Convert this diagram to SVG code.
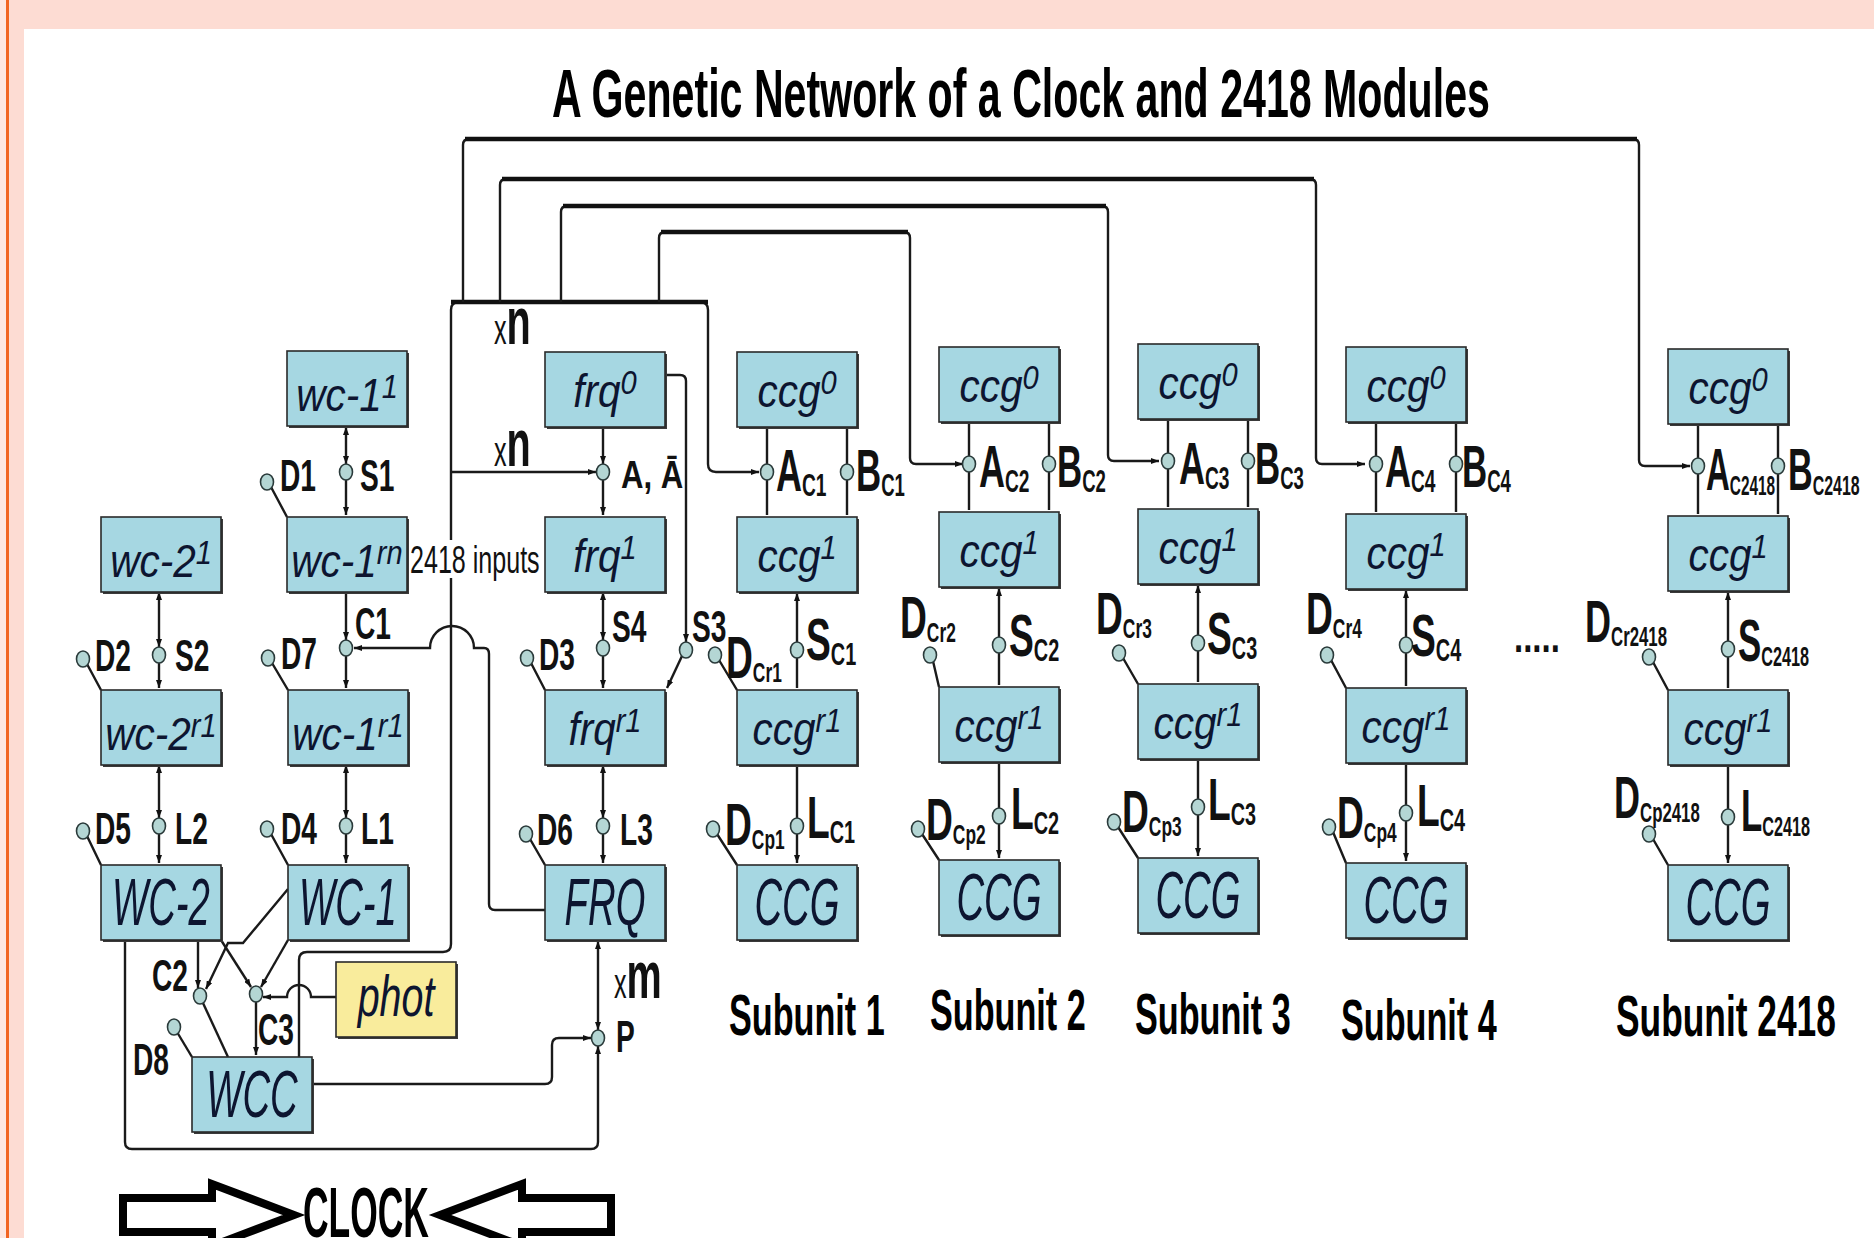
<svg xmlns="http://www.w3.org/2000/svg" width="1874" height="1238" viewBox="0 0 1874 1238">
<defs>
<style>
.bx{fill:#a6d7e2;stroke:#2a2a2a;stroke-width:1.6}
.sh{fill:#3a3a3a}
.ph{fill:#f9ec9c;stroke:#2a2a2a;stroke-width:1.6}
.lt{font-family:"Liberation Sans",Arial,sans-serif;font-style:italic;font-size:46px;fill:#0d1530;text-anchor:middle}
.ut{font-family:"Liberation Sans",Arial,sans-serif;font-style:italic;font-size:66px;fill:#0d1530;text-anchor:middle}
.sp{font-size:33px}
.b{font-family:"Liberation Sans",Arial,sans-serif;font-weight:bold;font-size:44px;fill:#111}
.b2{font-family:"Liberation Sans",Arial,sans-serif;font-weight:bold;font-size:60px;fill:#111}
.sb{font-size:32px}
.sd{font-size:28px}
.w{fill:none;stroke:#1a1a1a;stroke-width:2.4}
.wt{fill:none;stroke:#111;stroke-width:4.5}
.nd{fill:#b4d6d4;stroke:#2a3a3a;stroke-width:1.6}
.ti{font-family:"Liberation Sans",Arial,sans-serif;font-weight:bold;fill:#000}
</style>
<marker id="a" viewBox="0 0 8 6" refX="8" refY="3" markerWidth="8" markerHeight="6" markerUnits="userSpaceOnUse" orient="auto-start-reverse"><path d="M0,0 L8,3 L0,6 z" fill="#111"/></marker>
</defs>

<rect x="0" y="0" width="1874" height="1238" fill="#ffffff"/>
<rect x="0" y="0" width="1874" height="29" fill="#fddcd3"/>
<rect x="0" y="0" width="24" height="1238" fill="#fddcd3"/>
<rect x="0" y="0" width="6" height="1238" fill="#fee7e1"/>
<rect x="6" y="0" width="3" height="1238" fill="#f26522"/>

<text class="ti" font-size="68" transform="translate(552,117) scale(.605,1)">A Genetic Network of a Clock and 2418 Modules</text>

<g id="connectors">
<path class="w" d="M299,1057 V960 Q299,952 307,952 H443 Q451,952 451,944 V310 Q451,302 459,302 H700 Q708,302 708,310 V464 Q708,472 716,472 H759" marker-end="url(#a)"/>
<path class="wt" d="M451,302 H708"/>
<path class="w" d="M451,472 H596" marker-end="url(#a)"/>
<path class="w" d="M463,302 V145 Q463,139 469,139 H1633 Q1639,139 1639,145 V460 Q1639,466 1645,466 H1690" marker-end="url(#a)"/>
<path class="w" d="M500,302 V185 Q500,179 506,179 H1310 Q1316,179 1316,185 V458 Q1316,464 1322,464 H1365" marker-end="url(#a)"/>
<path class="w" d="M561,302 V212 Q561,206 567,206 H1102 Q1108,206 1108,212 V455 Q1108,461 1114,461 H1159" marker-end="url(#a)"/>
<path class="w" d="M659,302 V238 Q659,232 665,232 H904 Q910,232 910,238 V458 Q910,464 916,464 H963" marker-end="url(#a)"/>
<path class="wt" d="M465,139 H1637 M502,179 H1314 M563,206 H1106 M661,232 H908"/>
<path class="w" d="M666,375 H680 Q686,375 686,381 V642" marker-end="url(#a)"/>
<path class="w" d="M682,656 L667,688" marker-end="url(#a)"/>
<path class="w" d="M545,910 H495 Q489,910 489,904 V654 Q489,648 484,648 H474 A22,22 0 0 0 430,648 H354" marker-end="url(#a)"/>
<path class="w" d="M313,1084 H545 Q552,1084 552,1077 V1045 Q552,1038 559,1038 H591" marker-end="url(#a)"/>
<path class="w" d="M598,941 V1030" marker-start="url(#a)" marker-end="url(#a)"/>
<path class="w" d="M125,940 V1142 Q125,1149 132,1149 H591 Q598,1149 598,1142 V1046" marker-end="url(#a)"/>
<path class="w" d="M198,940 V988" marker-end="url(#a)"/>
<path class="w" d="M221,940 L251,987" marker-end="url(#a)"/>
<path class="w" d="M288,940 L261,987" marker-end="url(#a)"/>
<path class="w" d="M288,889 L243,943 H228 L206,989" marker-end="url(#a)"/>
<path class="w" d="M203,1003 L228,1057"/>
<path class="w" d="M256,1002 V1055" marker-end="url(#a)"/>
<path class="w" d="M177,1032 L192,1057"/>
<path class="w" d="M336,997 H311 A12,12 0 0 0 287,997 H263" marker-end="url(#a)"/>
<path class="w" d="M346,427 V464" marker-start="url(#a)" marker-end="url(#a)"/>
<path class="w" d="M346,480 V515" marker-end="url(#a)"/>
<path class="w" d="M346,592 V640" marker-end="url(#a)"/>
<path class="w" d="M346,656 V688" marker-end="url(#a)"/>
<path class="w" d="M346,765 V818" marker-start="url(#a)" marker-end="url(#a)"/>
<path class="w" d="M346,834 V863" marker-end="url(#a)"/>
<path class="w" d="M159,592 V647" marker-start="url(#a)" marker-end="url(#a)"/>
<path class="w" d="M159,663 V688" marker-end="url(#a)"/>
<path class="w" d="M159,765 V818" marker-start="url(#a)" marker-end="url(#a)"/>
<path class="w" d="M159,834 V863" marker-end="url(#a)"/>
<path class="w" d="M603,427 V464" marker-end="url(#a)"/>
<path class="w" d="M603,480 V515" marker-end="url(#a)"/>
<path class="w" d="M603,592 V640" marker-start="url(#a)" marker-end="url(#a)"/>
<path class="w" d="M603,656 V688" marker-end="url(#a)"/>
<path class="w" d="M603,765 V818" marker-start="url(#a)" marker-end="url(#a)"/>
<path class="w" d="M603,834 V863" marker-end="url(#a)"/>
<path class="w" d="M271,487 L287,517 M272,663 L288,690 M271,834 L288,865 M87,664 L101,690 M87,836 L101,865 M531,663 L545,690 M530,839 L545,865"/>
<path class="w" d="M767,427 V464 M767,480 V515 M847,515 V480 M847,464 V429 M797,592 V642 M797,658 V688 M797,765 V818 M797,834 V863" marker-end="url(#a)"/>
<path class="w" d="M797,593 V594 M797,766 V767" marker-start="url(#a)"/>
<path class="w" d="M719,660 L737,690 M717,834 L737,865"/>
<path class="w" d="M969,422 V456 M969,472 V510 M1049,510 V472 M1049,456 V424 M999,587 V637 M999,653 V685 M999,762 V808 M999,824 V858" marker-end="url(#a)"/>
<path class="w" d="M999,588 V589 M999,763 V764" marker-start="url(#a)"/>
<path class="w" d="M933,661 L939,687 M922,834 L939,860"/>
<path class="w" d="M1168,419 V453 M1168,469 V507 M1248,507 V469 M1248,453 V421 M1198,584 V635 M1198,651 V682 M1198,759 V799 M1198,815 V856" marker-end="url(#a)"/>
<path class="w" d="M1198,585 V586 M1198,760 V761" marker-start="url(#a)"/>
<path class="w" d="M1123,658 L1138,684 M1118,827 L1138,858"/>
<path class="w" d="M1376,422 V456 M1376,472 V512 M1456,512 V472 M1456,456 V424 M1406,589 V637 M1406,653 V686 M1406,763 V805 M1406,821 V861" marker-end="url(#a)"/>
<path class="w" d="M1406,590 V591 M1406,764 V765" marker-start="url(#a)"/>
<path class="w" d="M1331,660 L1346,688 M1333,832 L1346,863"/>
<path class="w" d="M1698,424 V458 M1698,474 V514 M1778,514 V474 M1778,458 V426 M1728,591 V641 M1728,657 V688 M1728,765 V809 M1728,825 V863" marker-end="url(#a)"/>
<path class="w" d="M1728,592 V593 M1728,766 V767" marker-start="url(#a)"/>
<path class="w" d="M1653,662 L1668,690 M1653,839 L1668,865"/>
</g>

<g id="wc-1-1"><rect class="sh" x="289" y="353" width="120" height="75"/><rect class="bx" x="287" y="351" width="120" height="75"/><text class="lt" transform="translate(347,411) scale(.88,1)">wc-1<tspan class="sp" dy="-13">1</tspan></text></g>
<g id="wc-1-rn"><rect class="sh" x="289" y="519" width="120" height="75"/><rect class="bx" x="287" y="517" width="120" height="75"/><text class="lt" transform="translate(347,577) scale(.88,1)">wc-1<tspan class="sp" dy="-13">rn</tspan></text></g>
<g id="wc-2-1"><rect class="sh" x="103" y="519" width="120" height="75"/><rect class="bx" x="101" y="517" width="120" height="75"/><text class="lt" transform="translate(161,577) scale(.88,1)">wc-2<tspan class="sp" dy="-13">1</tspan></text></g>
<g id="wc-2-r1"><rect class="sh" x="103" y="692" width="120" height="75"/><rect class="bx" x="101" y="690" width="120" height="75"/><text class="lt" transform="translate(161,750) scale(.88,1)">wc-2<tspan class="sp" dy="-13">r1</tspan></text></g>
<g id="wc-1-r1"><rect class="sh" x="290" y="692" width="120" height="75"/><rect class="bx" x="288" y="690" width="120" height="75"/><text class="lt" transform="translate(348,750) scale(.88,1)">wc-1<tspan class="sp" dy="-13">r1</tspan></text></g>
<g id="WC-2"><rect class="sh" x="103" y="867" width="120" height="75"/><rect class="bx" x="101" y="865" width="120" height="75"/><text class="ut" transform="translate(161,925) scale(.58,1)">WC-2</text></g>
<g id="WC-1"><rect class="sh" x="290" y="867" width="120" height="75"/><rect class="bx" x="288" y="865" width="120" height="75"/><text class="ut" transform="translate(348,925) scale(.58,1)">WC-1</text></g>
<g id="WCC"><rect class="sh" x="194" y="1059" width="120" height="75"/><rect class="bx" x="192" y="1057" width="120" height="75"/><text class="ut" transform="translate(252,1117) scale(.58,1)">WCC</text></g>
<g id="phot"><rect class="sh" x="338" y="964" width="120" height="75"/><rect class="ph" x="336" y="962" width="120" height="75"/><text class="lt" transform="translate(396,1016) scale(.68,1)" style="font-size:58px">phot</text></g>
<g id="frq-0"><rect class="sh" x="547" y="354" width="120" height="75"/><rect class="bx" x="545" y="352" width="120" height="75"/><text class="lt" transform="translate(605,407) scale(.88,1)">frq<tspan class="sp" dy="-13">0</tspan></text></g>
<g id="frq-1"><rect class="sh" x="547" y="519" width="120" height="75"/><rect class="bx" x="545" y="517" width="120" height="75"/><text class="lt" transform="translate(605,572) scale(.88,1)">frq<tspan class="sp" dy="-13">1</tspan></text></g>
<g id="frq-r1"><rect class="sh" x="547" y="692" width="120" height="75"/><rect class="bx" x="545" y="690" width="120" height="75"/><text class="lt" transform="translate(605,745) scale(.88,1)">frq<tspan class="sp" dy="-13">r1</tspan></text></g>
<g id="FRQ"><rect class="sh" x="547" y="867" width="120" height="75"/><rect class="bx" x="545" y="865" width="120" height="75"/><text class="ut" transform="translate(605,925) scale(.58,1)">FRQ</text></g>

<g id="s1-ccg0"><rect class="sh" x="739" y="354" width="120" height="75"/><rect class="bx" x="737" y="352" width="120" height="75"/><text class="lt" transform="translate(797,407) scale(.88,1)">ccg<tspan class="sp" dy="-13">0</tspan></text></g>
<g id="s1-ccg1"><rect class="sh" x="739" y="519" width="120" height="75"/><rect class="bx" x="737" y="517" width="120" height="75"/><text class="lt" transform="translate(797,572) scale(.88,1)">ccg<tspan class="sp" dy="-13">1</tspan></text></g>
<g id="s1-ccgr1"><rect class="sh" x="739" y="692" width="120" height="75"/><rect class="bx" x="737" y="690" width="120" height="75"/><text class="lt" transform="translate(797,745) scale(.88,1)">ccg<tspan class="sp" dy="-13">r1</tspan></text></g>
<g id="s1-CCG"><rect class="sh" x="739" y="867" width="120" height="75"/><rect class="bx" x="737" y="865" width="120" height="75"/><text class="ut" transform="translate(797,925) scale(.58,1)">CCG</text></g>

<g id="s2-ccg0"><rect class="sh" x="941" y="349" width="120" height="75"/><rect class="bx" x="939" y="347" width="120" height="75"/><text class="lt" transform="translate(999,402) scale(.88,1)">ccg<tspan class="sp" dy="-13">0</tspan></text></g>
<g id="s2-ccg1"><rect class="sh" x="941" y="514" width="120" height="75"/><rect class="bx" x="939" y="512" width="120" height="75"/><text class="lt" transform="translate(999,567) scale(.88,1)">ccg<tspan class="sp" dy="-13">1</tspan></text></g>
<g id="s2-ccgr1"><rect class="sh" x="941" y="689" width="120" height="75"/><rect class="bx" x="939" y="687" width="120" height="75"/><text class="lt" transform="translate(999,742) scale(.88,1)">ccg<tspan class="sp" dy="-13">r1</tspan></text></g>
<g id="s2-CCG"><rect class="sh" x="941" y="862" width="120" height="75"/><rect class="bx" x="939" y="860" width="120" height="75"/><text class="ut" transform="translate(999,920) scale(.58,1)">CCG</text></g>

<g id="s3-ccg0"><rect class="sh" x="1140" y="346" width="120" height="75"/><rect class="bx" x="1138" y="344" width="120" height="75"/><text class="lt" transform="translate(1198,399) scale(.88,1)">ccg<tspan class="sp" dy="-13">0</tspan></text></g>
<g id="s3-ccg1"><rect class="sh" x="1140" y="511" width="120" height="75"/><rect class="bx" x="1138" y="509" width="120" height="75"/><text class="lt" transform="translate(1198,564) scale(.88,1)">ccg<tspan class="sp" dy="-13">1</tspan></text></g>
<g id="s3-ccgr1"><rect class="sh" x="1140" y="686" width="120" height="75"/><rect class="bx" x="1138" y="684" width="120" height="75"/><text class="lt" transform="translate(1198,739) scale(.88,1)">ccg<tspan class="sp" dy="-13">r1</tspan></text></g>
<g id="s3-CCG"><rect class="sh" x="1140" y="860" width="120" height="75"/><rect class="bx" x="1138" y="858" width="120" height="75"/><text class="ut" transform="translate(1198,918) scale(.58,1)">CCG</text></g>

<g id="s4-ccg0"><rect class="sh" x="1348" y="349" width="120" height="75"/><rect class="bx" x="1346" y="347" width="120" height="75"/><text class="lt" transform="translate(1406,402) scale(.88,1)">ccg<tspan class="sp" dy="-13">0</tspan></text></g>
<g id="s4-ccg1"><rect class="sh" x="1348" y="516" width="120" height="75"/><rect class="bx" x="1346" y="514" width="120" height="75"/><text class="lt" transform="translate(1406,569) scale(.88,1)">ccg<tspan class="sp" dy="-13">1</tspan></text></g>
<g id="s4-ccgr1"><rect class="sh" x="1348" y="690" width="120" height="75"/><rect class="bx" x="1346" y="688" width="120" height="75"/><text class="lt" transform="translate(1406,743) scale(.88,1)">ccg<tspan class="sp" dy="-13">r1</tspan></text></g>
<g id="s4-CCG"><rect class="sh" x="1348" y="865" width="120" height="75"/><rect class="bx" x="1346" y="863" width="120" height="75"/><text class="ut" transform="translate(1406,923) scale(.58,1)">CCG</text></g>

<g id="s2418-ccg0"><rect class="sh" x="1670" y="351" width="120" height="75"/><rect class="bx" x="1668" y="349" width="120" height="75"/><text class="lt" transform="translate(1728,404) scale(.88,1)">ccg<tspan class="sp" dy="-13">0</tspan></text></g>
<g id="s2418-ccg1"><rect class="sh" x="1670" y="518" width="120" height="75"/><rect class="bx" x="1668" y="516" width="120" height="75"/><text class="lt" transform="translate(1728,571) scale(.88,1)">ccg<tspan class="sp" dy="-13">1</tspan></text></g>
<g id="s2418-ccgr1"><rect class="sh" x="1670" y="692" width="120" height="75"/><rect class="bx" x="1668" y="690" width="120" height="75"/><text class="lt" transform="translate(1728,745) scale(.88,1)">ccg<tspan class="sp" dy="-13">r1</tspan></text></g>
<g id="s2418-CCG"><rect class="sh" x="1670" y="867" width="120" height="75"/><rect class="bx" x="1668" y="865" width="120" height="75"/><text class="ut" transform="translate(1728,925) scale(.58,1)">CCG</text></g>

<g id="clock-junctions">
<ellipse class="nd" cx="346" cy="472" rx="6.5" ry="8"/><ellipse class="nd" cx="267" cy="482" rx="6.5" ry="8"/>
<ellipse class="nd" cx="346" cy="648" rx="6.5" ry="8"/><ellipse class="nd" cx="268" cy="658" rx="6.5" ry="8"/>
<ellipse class="nd" cx="346" cy="826" rx="6.5" ry="8"/><ellipse class="nd" cx="267" cy="829" rx="6.5" ry="8"/>
<ellipse class="nd" cx="159" cy="655" rx="6.5" ry="8"/><ellipse class="nd" cx="83" cy="659" rx="6.5" ry="8"/>
<ellipse class="nd" cx="159" cy="826" rx="6.5" ry="8"/><ellipse class="nd" cx="83" cy="831" rx="6.5" ry="8"/>
<ellipse class="nd" cx="200" cy="996" rx="6.5" ry="8"/><ellipse class="nd" cx="256" cy="994" rx="6.5" ry="8"/>
<ellipse class="nd" cx="174" cy="1027" rx="6.5" ry="8"/>
<ellipse class="nd" cx="603" cy="472" rx="6.5" ry="8"/><ellipse class="nd" cx="603" cy="648" rx="6.5" ry="8"/>
<ellipse class="nd" cx="686" cy="650" rx="6.5" ry="8"/><ellipse class="nd" cx="527" cy="658" rx="6.5" ry="8"/>
<ellipse class="nd" cx="603" cy="826" rx="6.5" ry="8"/><ellipse class="nd" cx="526" cy="834" rx="6.5" ry="8"/>
<ellipse class="nd" cx="598" cy="1038" rx="6.5" ry="8"/>
<text class="b" transform="translate(280,491) scale(.64,1)">D1</text>
<text class="b" transform="translate(360,491) scale(.64,1)">S1</text>
<text class="b" transform="translate(281,669) scale(.64,1)">D7</text>
<text class="b" transform="translate(355,639) scale(.64,1)">C1</text>
<text class="b" transform="translate(281,844) scale(.64,1)">D4</text>
<text class="b" transform="translate(361,844) scale(.64,1)">L1</text>
<text class="b" transform="translate(95,671) scale(.64,1)">D2</text>
<text class="b" transform="translate(175,671) scale(.64,1)">S2</text>
<text class="b" transform="translate(95,844) scale(.64,1)">D5</text>
<text class="b" transform="translate(175,844) scale(.64,1)">L2</text>
<text class="b" transform="translate(152,991) scale(.64,1)">C2</text>
<text class="b" transform="translate(258,1045) scale(.64,1)">C3</text>
<text class="b" transform="translate(133,1075) scale(.64,1)">D8</text>
<text class="b" transform="translate(539,670) scale(.64,1)">D3</text>
<text class="b" transform="translate(612,642) scale(.64,1)">S4</text>
<text class="b" transform="translate(692,642) scale(.64,1)">S3</text>
<text class="b" transform="translate(537,845) scale(.64,1)">D6</text>
<text class="b" transform="translate(620,845) scale(.64,1)">L3</text>
<text class="b" transform="translate(616,1052) scale(.64,1)">P</text>
<text class="b" style="font-size:38px" transform="translate(621,488) scale(.82,1)">A, Ā</text>
<text class="b" transform="translate(494,344) scale(.6,1)"><tspan style="font-size:42px;font-weight:normal">x</tspan><tspan style="font-size:66px">n</tspan></text>
<text class="b" transform="translate(494,466) scale(.6,1)"><tspan style="font-size:42px;font-weight:normal">x</tspan><tspan style="font-size:66px">n</tspan></text>
<text class="b" transform="translate(614,998) scale(.6,1)"><tspan style="font-size:42px;font-weight:normal">x</tspan><tspan style="font-size:66px">m</tspan></text>
<rect x="409" y="540" width="134" height="38" fill="#fff"/>
<text font-family="Liberation Sans, Arial, sans-serif" font-size="38" fill="#111" transform="translate(410,573) scale(.66,1)">2418 inputs</text>
</g>

<g id="subunit-1-junctions">
<ellipse class="nd" cx="767" cy="472" rx="6.5" ry="8"/><ellipse class="nd" cx="847" cy="472" rx="6.5" ry="8"/>
<ellipse class="nd" cx="797" cy="650" rx="6.5" ry="8"/><ellipse class="nd" cx="797" cy="826" rx="6.5" ry="8"/>
<ellipse class="nd" cx="715" cy="655" rx="6.5" ry="8"/><ellipse class="nd" cx="713" cy="829" rx="6.5" ry="8"/>
<text class="b2" transform="translate(776,491) scale(.6,1)">A<tspan class="sb" dy="5">C1</tspan></text>
<text class="b2" transform="translate(856,491) scale(.58,1)">B<tspan class="sb" dy="5">C1</tspan></text>
<text class="b2" transform="translate(806,660) scale(.62,1)">S<tspan class="sb" dy="5">C1</tspan></text>
<text class="b2" transform="translate(807,838) scale(.62,1)">L<tspan class="sb" dy="5">C1</tspan></text>
<text class="b2" transform="translate(726,678) scale(.62,1)">D<tspan class="sd" dy="4">Cr1</tspan></text>
<text class="b2" transform="translate(725,845) scale(.62,1)">D<tspan class="sd" dy="4">Cp1</tspan></text>
<text class="ti" font-size="57" transform="translate(729,1035) scale(.6,1)">Subunit 1</text>
</g>
<g id="subunit-2-junctions">
<ellipse class="nd" cx="969" cy="464" rx="6.5" ry="8"/><ellipse class="nd" cx="1049" cy="464" rx="6.5" ry="8"/>
<ellipse class="nd" cx="999" cy="645" rx="6.5" ry="8"/><ellipse class="nd" cx="999" cy="816" rx="6.5" ry="8"/>
<ellipse class="nd" cx="930" cy="655" rx="6.5" ry="8"/><ellipse class="nd" cx="918" cy="829" rx="6.5" ry="8"/>
<text class="b2" transform="translate(979,487) scale(.6,1)">A<tspan class="sb" dy="5">C2</tspan></text>
<text class="b2" transform="translate(1057,487) scale(.58,1)">B<tspan class="sb" dy="5">C2</tspan></text>
<text class="b2" transform="translate(1009,656) scale(.62,1)">S<tspan class="sb" dy="5">C2</tspan></text>
<text class="b2" transform="translate(1011,829) scale(.62,1)">L<tspan class="sb" dy="5">C2</tspan></text>
<text class="b2" transform="translate(900,638) scale(.62,1)">D<tspan class="sd" dy="4">Cr2</tspan></text>
<text class="b2" transform="translate(926,840) scale(.62,1)">D<tspan class="sd" dy="4">Cp2</tspan></text>
<text class="ti" font-size="57" transform="translate(930,1030) scale(.6,1)">Subunit 2</text>
</g>
<g id="subunit-3-junctions">
<ellipse class="nd" cx="1168" cy="461" rx="6.5" ry="8"/><ellipse class="nd" cx="1248" cy="461" rx="6.5" ry="8"/>
<ellipse class="nd" cx="1198" cy="643" rx="6.5" ry="8"/><ellipse class="nd" cx="1198" cy="807" rx="6.5" ry="8"/>
<ellipse class="nd" cx="1119" cy="653" rx="6.5" ry="8"/><ellipse class="nd" cx="1114" cy="822" rx="6.5" ry="8"/>
<text class="b2" transform="translate(1179,484) scale(.6,1)">A<tspan class="sb" dy="5">C3</tspan></text>
<text class="b2" transform="translate(1255,484) scale(.58,1)">B<tspan class="sb" dy="5">C3</tspan></text>
<text class="b2" transform="translate(1207,654) scale(.62,1)">S<tspan class="sb" dy="5">C3</tspan></text>
<text class="b2" transform="translate(1208,820) scale(.62,1)">L<tspan class="sb" dy="5">C3</tspan></text>
<text class="b2" transform="translate(1096,634) scale(.62,1)">D<tspan class="sd" dy="4">Cr3</tspan></text>
<text class="b2" transform="translate(1122,832) scale(.62,1)">D<tspan class="sd" dy="4">Cp3</tspan></text>
<text class="ti" font-size="57" transform="translate(1135,1034) scale(.6,1)">Subunit 3</text>
</g>
<g id="subunit-4-junctions">
<ellipse class="nd" cx="1376" cy="464" rx="6.5" ry="8"/><ellipse class="nd" cx="1456" cy="464" rx="6.5" ry="8"/>
<ellipse class="nd" cx="1406" cy="645" rx="6.5" ry="8"/><ellipse class="nd" cx="1406" cy="813" rx="6.5" ry="8"/>
<ellipse class="nd" cx="1327" cy="655" rx="6.5" ry="8"/><ellipse class="nd" cx="1329" cy="827" rx="6.5" ry="8"/>
<text class="b2" transform="translate(1385,487) scale(.6,1)">A<tspan class="sb" dy="5">C4</tspan></text>
<text class="b2" transform="translate(1462,487) scale(.58,1)">B<tspan class="sb" dy="5">C4</tspan></text>
<text class="b2" transform="translate(1411,656) scale(.62,1)">S<tspan class="sb" dy="5">C4</tspan></text>
<text class="b2" transform="translate(1417,826) scale(.62,1)">L<tspan class="sb" dy="5">C4</tspan></text>
<text class="b2" transform="translate(1306,634) scale(.62,1)">D<tspan class="sd" dy="4">Cr4</tspan></text>
<text class="b2" transform="translate(1337,838) scale(.62,1)">D<tspan class="sd" dy="4">Cp4</tspan></text>
<text class="ti" font-size="57" transform="translate(1341,1040) scale(.6,1)">Subunit 4</text>
</g>
<g id="subunit-2418-junctions">
<ellipse class="nd" cx="1698" cy="466" rx="6.5" ry="8"/><ellipse class="nd" cx="1778" cy="466" rx="6.5" ry="8"/>
<ellipse class="nd" cx="1728" cy="649" rx="6.5" ry="8"/><ellipse class="nd" cx="1728" cy="817" rx="6.5" ry="8"/>
<ellipse class="nd" cx="1649" cy="657" rx="6.5" ry="8"/><ellipse class="nd" cx="1649" cy="834" rx="6.5" ry="8"/>
<text class="b2" transform="translate(1706,490) scale(.55,1)">A<tspan class="sd" dy="5">C2418</tspan></text>
<text class="b2" transform="translate(1788,490) scale(.57,1)">B<tspan class="sd" dy="5">C2418</tspan></text>
<text class="b2" transform="translate(1738,661) scale(.58,1)">S<tspan class="sd" dy="5">C2418</tspan></text>
<text class="b2" transform="translate(1741,831) scale(.58,1)">L<tspan class="sd" dy="5">C2418</tspan></text>
<text class="b2" transform="translate(1585,642) scale(.6,1)">D<tspan class="sd" dy="4">Cr2418</tspan></text>
<text class="b2" transform="translate(1614,818) scale(.6,1)">D<tspan class="sd" dy="4">Cp2418</tspan></text>
<text class="b" transform="translate(1514,652) scale(.75,1)">.....</text>
<text class="ti" font-size="57" transform="translate(1616,1036) scale(.62,1)">Subunit 2418</text>
</g>

<g id="clock-label">
<path d="M123,1198 H212 V1184 L294,1215 L212,1246 V1232 H123 Z" fill="#fff" stroke="#000" stroke-width="8" stroke-linejoin="miter"/>
<path d="M611,1198 H522 V1184 L440,1215 L522,1246 V1232 H611 Z" fill="#fff" stroke="#000" stroke-width="8" stroke-linejoin="miter"/>
<text class="ti" font-size="70" transform="translate(303,1237) scale(.506,1)">CLOCK</text>
</g>
</svg>
